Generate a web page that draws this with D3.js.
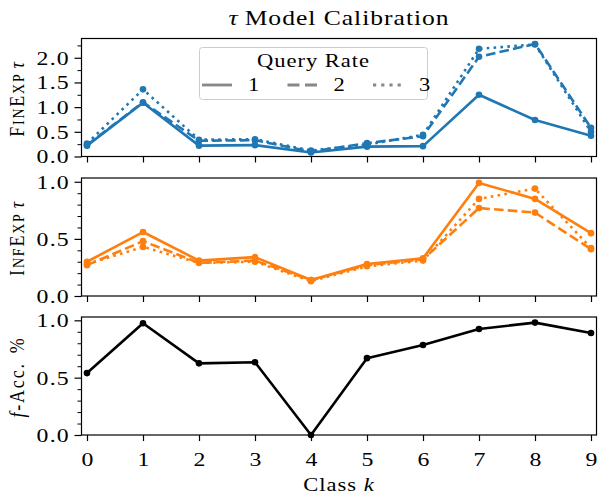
<!DOCTYPE html>
<html>
<head>
<meta charset="utf-8">
<script src="https://cdn.jsdelivr.net/npm/d3@7"></script>
<style>
  body { margin: 0; background: #fff; }
  svg { display: block; }
</style>
</head>
<body>
<div id="chart-area"></div>
<script>
// data
const classes = [0, 1, 2, 3, 4, 5, 6, 7, 8, 9];
const queryRates = ["1", "2", "3"];

const finExp1 = [0.22, 1.09, 0.22, 0.23, 0.08, 0.20, 0.21, 1.25, 0.74, 0.42];
const finExp2 = [0.23, 1.10, 0.32, 0.33, 0.10, 0.27, 0.41, 2.02, 2.28, 0.58];
const finExp3 = [0.26, 1.36, 0.34, 0.35, 0.12, 0.24, 0.44, 2.18, 2.27, 0.50];

const infExp1 = [0.30, 0.56, 0.31, 0.34, 0.14, 0.28, 0.33, 0.99, 0.85, 0.55];
const infExp2 = [0.27, 0.48, 0.29, 0.31, 0.14, 0.27, 0.32, 0.77, 0.73, 0.41];
const infExp3 = [0.28, 0.43, 0.29, 0.30, 0.13, 0.26, 0.31, 0.85, 0.94, 0.42];

const fAcc = [0.54, 0.975, 0.625, 0.635, 0.0, 0.67, 0.785, 0.925, 0.98, 0.89];

const finTicks = [0.0, 0.5, 1.0, 1.5, 2.0];
const unitTicks = [0.0, 0.5, 1.0];

const width = 598;
const height = 495;
const SX = 1.22;   // text in the reference is a bit wide, stretch it sideways
const FONT = "'Liberation Serif', 'Times New Roman', serif";

const svg = d3.select("#chart-area")
    .append("svg")
    .attr("width", width)
    .attr("height", height)
    .style("font-family", FONT);

const xLeft = 81.5, xRight = 596.5;
const x = d3.scaleLinear().domain([0, 9]).range([87, 591]);

// dash styles for query rate 1, 2, 3
const dashes = [null, "9.6,4.2", "2.6,4.3"];
const legendDashes = [null, "12,5.5", "3.2,5"];

function yDomainMax(seriesList) {
    const all = seriesList.flat();
    const mx = d3.max(all), mn = d3.min(all);
    return mx + 0.05 * (mx - mn);
}

const panels = [
    { top: 38.5, bottom: 156.5, series: [finExp1, finExp2, finExp3], color: "#1f77b4",
      ticks: finTicks, minorStep: 0.25, label: "fin" },
    { top: 178, bottom: 296, series: [infExp1, infExp2, infExp3], color: "#ff7f0e",
      ticks: unitTicks, minorStep: 0.1, label: "inf" },
    { top: 317, bottom: 435, series: [fAcc], color: "#000000",
      ticks: unitTicks, minorStep: 0.1, label: "acc" }
];

panels.forEach((p, pi) => {
    const yMax = yDomainMax(p.series);
    const y = d3.scaleLinear().domain([0, yMax]).range([p.bottom, p.top]);
    const g = svg.append("g");

    // minor y ticks
    const minor = d3.range(0, yMax + 1e-9, p.minorStep)
        .filter(v => !p.ticks.some(t => Math.abs(t - v) < 1e-6));
    g.append("g")
        .attr("transform", `translate(${xLeft},0)`)
        .call(d3.axisLeft(y).tickValues(minor).tickSize(4).tickFormat(""))
        .call(a => a.select(".domain").remove())
        .call(a => a.selectAll("line").attr("stroke", "#000").attr("stroke-width", 1));

    // major y ticks
    g.append("g")
        .attr("transform", `translate(${xLeft},0)`)
        .call(d3.axisLeft(y).tickValues(p.ticks).tickSize(7).tickFormat(d3.format(".1f")))
        .call(a => a.select(".domain").remove())
        .call(a => a.selectAll("line").attr("stroke", "#000").attr("stroke-width", 1.2))
        .call(a => a.selectAll("text")
            .attr("x", 0)
            .attr("dy", "0.33em")
            .attr("transform", `translate(-11.5,0) scale(${SX},1)`)
            .style("font-family", FONT)
            .style("font-size", "19.5px")
            .style("letter-spacing", "1px")
            .attr("fill", "#000"));

    // x ticks on every panel, labels only on the last
    const xAx = g.append("g")
        .attr("transform", `translate(0,${p.bottom})`)
        .call(d3.axisBottom(x).tickValues(classes).tickSize(6).tickFormat(d3.format("d")))
        .call(a => a.select(".domain").remove())
        .call(a => a.selectAll("line").attr("stroke", "#000").attr("stroke-width", 1.2));
    if (pi < panels.length - 1) {
        xAx.selectAll("text").remove();
    } else {
        xAx.selectAll("text")
            .attr("y", 31.5)
            .attr("dy", 0)
            .attr("transform", `scale(${SX},1)`)
            .style("font-family", FONT)
            .style("font-size", "19.5px")
            .attr("fill", "#000");
    }

    // lines + markers
    const line = d3.line().x((d, i) => x(classes[i])).y(d => y(d));
    p.series.forEach((s, si) => {
        g.append("path")
            .datum(s)
            .attr("d", line)
            .attr("fill", "none")
            .attr("stroke", p.color)
            .attr("stroke-width", 2.6)
            .attr("stroke-linejoin", "round")
            .attr("stroke-dasharray", dashes[si]);
        g.selectAll(".m" + si)
            .data(s)
            .enter()
            .append("circle")
            .attr("class", "m" + si)
            .attr("cx", (d, i) => x(classes[i]))
            .attr("cy", d => y(d))
            .attr("r", 3.3)
            .attr("fill", p.color);
    });

    // frame
    g.append("rect")
        .attr("x", xLeft)
        .attr("y", p.top)
        .attr("width", xRight - xLeft)
        .attr("height", p.bottom - p.top)
        .attr("fill", "none")
        .attr("stroke", "#000")
        .attr("stroke-width", 1.2);

    // y label (rotated), small caps done by hand
    const lab = svg.append("text")
        .attr("transform", `translate(24,${(p.top + p.bottom) / 2 + 1}) scale(${SX},1) rotate(-90)`)
        .attr("text-anchor", "middle")
        .style("font-size", "18px")
        .style("letter-spacing", "1.8px")
        .attr("fill", "#000");
    if (p.label === "fin" || p.label === "inf") {
        const word = p.label === "fin" ? ["F", "IN", "E", "XP"] : ["I", "NF", "E", "XP"];
        lab.append("tspan").text(word[0]);
        lab.append("tspan").style("font-size", "14px").text(word[1]);
        lab.append("tspan").text(word[2]);
        lab.append("tspan").style("font-size", "14px").text(word[3]);
        lab.append("tspan").attr("dx", 4).style("font-style", "italic").text("τ");
    } else {
        lab.append("tspan").style("font-style", "italic").text("f");
        lab.append("tspan").text("-Acc.");
        lab.append("tspan").attr("dx", 9).text("%");
    }
});

// title
const title = svg.append("text")
    .attr("transform", `translate(339,25) scale(${SX},1)`)
    .attr("text-anchor", "middle")
    .style("font-size", "21px")
    .style("letter-spacing", "0.8px")
    .attr("fill", "#000");
title.append("tspan").style("font-style", "italic").text("τ");
title.append("tspan").attr("dx", 5).text("Model Calibration");

// x label
const xl = svg.append("text")
    .attr("transform", `translate(339,491) scale(${SX},1)`)
    .attr("text-anchor", "middle")
    .style("font-size", "18.5px")
    .style("letter-spacing", "0.8px")
    .attr("fill", "#000");
xl.append("tspan").text("Class ");
xl.append("tspan").style("font-style", "italic").text("k");

// legend
const lg = svg.append("g");
lg.append("rect")
    .attr("x", 199.5).attr("y", 47.5)
    .attr("width", 228).attr("height", 52)
    .attr("rx", 3)
    .attr("fill", "#fff").attr("fill-opacity", 0.8)
    .attr("stroke", "#cccccc").attr("stroke-width", 1);
lg.append("text")
    .attr("transform", `translate(313.5,67) scale(${SX},1)`)
    .attr("text-anchor", "middle")
    .style("font-size", "18.5px")
    .style("letter-spacing", "0.8px")
    .attr("fill", "#000")
    .text("Query Rate");
const entryX = d3.scalePoint().domain(queryRates).range([202, 373]);
queryRates.forEach((q, i) => {
    const x0 = entryX(q);
    lg.append("line")
        .attr("x1", x0).attr("x2", x0 + 30)
        .attr("y1", 85).attr("y2", 85)
        .attr("stroke", "#888")
        .attr("stroke-width", 2.8)
        .attr("stroke-dasharray", legendDashes[i]);
    lg.append("text")
        .attr("transform", `translate(${x0 + 46},91) scale(${SX},1)`)
        .style("font-size", "18.5px")
        .attr("fill", "#000")
        .text(q);
});
</script>
</body>
</html>
